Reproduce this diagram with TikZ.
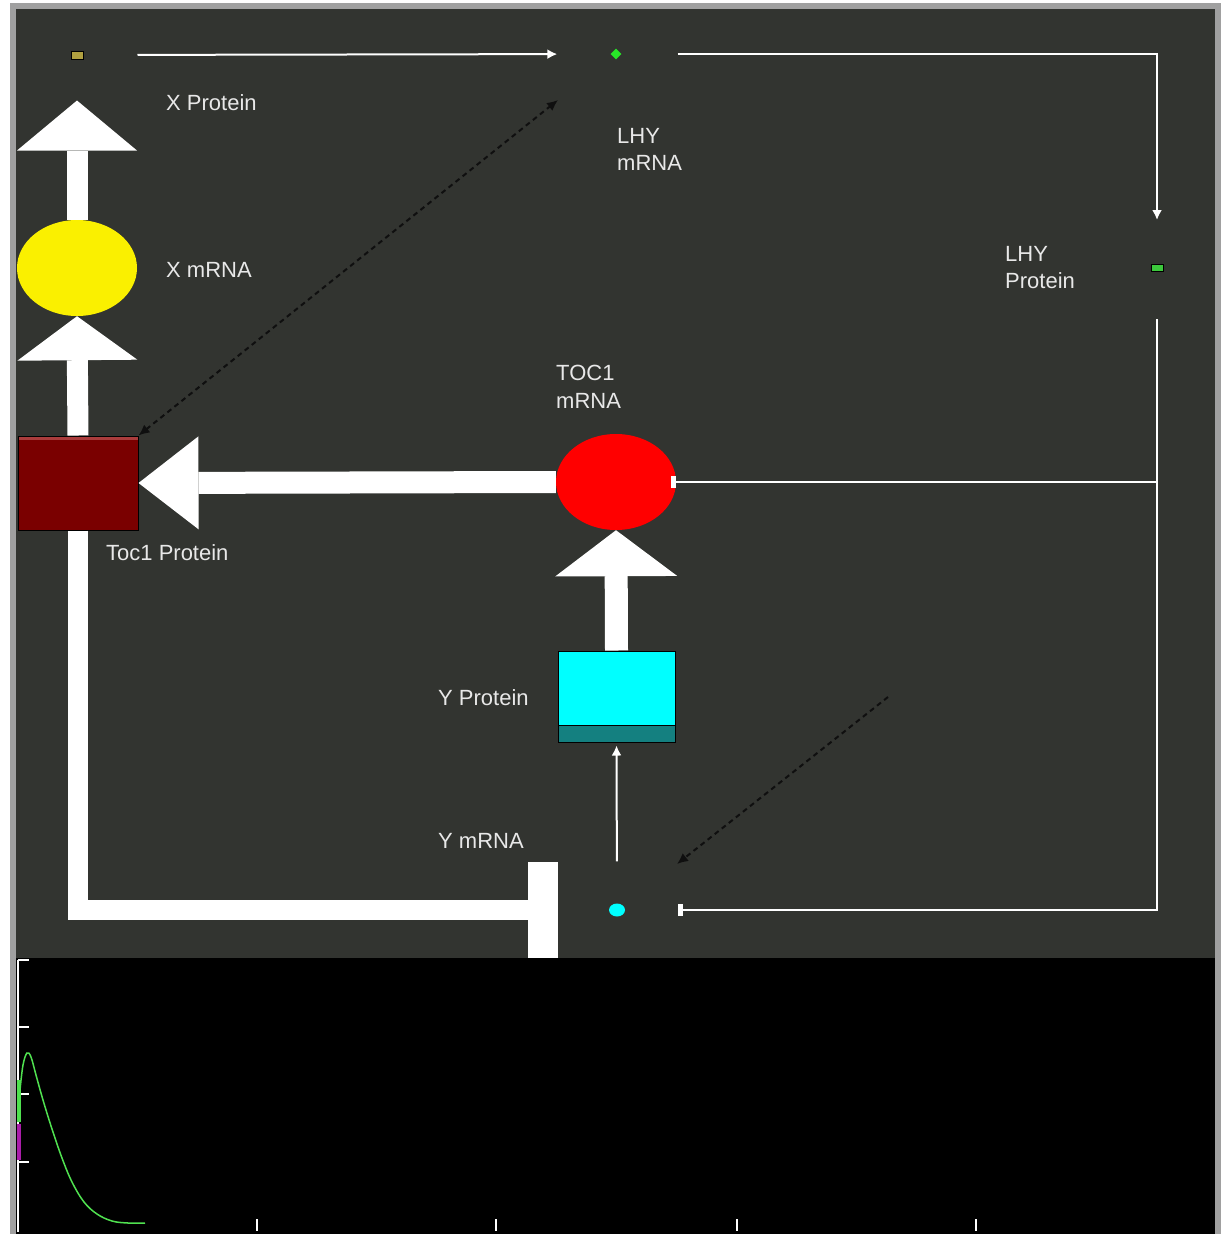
\documentclass[tikz,border=0pt]{standalone}
\usepackage{fontspec}
\setmainfont{Liberation Sans}
\usetikzlibrary{arrows.meta,shapes.geometric}
\definecolor{panel}{RGB}{50,52,48}
\definecolor{framegray}{RGB}{160,160,160}
\definecolor{toconered}{RGB}{255,0,0}
\definecolor{xyellow}{RGB}{250,240,0}
\definecolor{toconeprot}{RGB}{122,0,0}
\definecolor{toconetop}{RGB}{170,60,60}
\definecolor{ycyan}{RGB}{0,255,255}
\definecolor{yteal}{RGB}{20,128,128}
\definecolor{labelgray}{RGB}{232,232,232}
\definecolor{olivebox}{RGB}{176,160,64}
\definecolor{dotgreen}{RGB}{40,230,40}
\definecolor{lhygreen}{RGB}{60,200,60}
\definecolor{curvegreen}{RGB}{80,225,80}
\definecolor{barmagenta}{RGB}{170,30,170}
\definecolor{dashblack}{RGB}{15,15,15}
\begin{document}
\begin{tikzpicture}[x=1pt,y=-1pt,
  lbl/.style={text=labelgray,inner sep=0pt,font=\fontsize{22}{27.5}\selectfont,align=left},
  smallbox/.style={rectangle,draw=black,line width=1pt,inner sep=0pt},
  bigoval/.style={ellipse,inner sep=0pt,minimum width=120pt,minimum height=96pt},
  fatarrow/.style n args={3}{draw=white,line width=#1,-{Triangle[length=#2,width=#3,line width=0pt]}},
  thinw/.style={draw=white,line width=2pt},
  tipw/.style={-{Latex[length=10pt,width=10pt]}},
  inhibit/.style={-{Bar[width=12pt,line width=5pt]}},
  dashw/.style={draw=dashblack,line width=2pt,dash pattern=on 5pt off 4pt}
]
\useasboundingbox (0,0) rectangle (1223,1234);
\fill[white] (0,0) rectangle (1223,1234);
\fill[framegray] (10,3) rectangle (1221,1234);
\fill[panel] (16,9) rectangle (1215,958);
\fill[black] (16,958) rectangle (1215,1234);

% nodes
\node[smallbox,fill=olivebox,minimum width=12pt,minimum height=8pt] (xprot) at (77,55) {};
\node[diamond,fill=dotgreen,inner sep=0pt,minimum size=11pt] (lhym) at (616,54) {};
\node[smallbox,fill=lhygreen,minimum width=12pt,minimum height=7pt] (lhyp) at (1157,268) {};
\node[bigoval,fill=xyellow] (xmrna) at (77,268) {};
\node[rectangle,draw=black,line width=1pt,fill=toconeprot,inner sep=0pt,
      minimum width=120pt,minimum height=94pt,
      path picture={\fill[toconetop] ([yshift=-1pt]path picture bounding box.north west) rectangle ([yshift=-4pt]path picture bounding box.north east);}]
      (toc1p) at (78,483) {};
\node[bigoval,fill=toconered] (toc1) at (616,482) {};
\node[rectangle,draw=black,line width=1pt,fill=ycyan,inner sep=0pt,
      minimum width=117pt,minimum height=91pt,
      path picture={\fill[yteal] (path picture bounding box.south west) rectangle ([yshift=17pt]path picture bounding box.south east);
                    \draw[black,line width=1pt] ([yshift=17pt]path picture bounding box.south west) -- ([yshift=17pt]path picture bounding box.south east);}]
      (yprot) at (616.5,696.5) {};
\node[ellipse,fill=ycyan,inner sep=0pt,minimum width=16pt,minimum height=13pt] (ymrna) at (617,910) {};
\node[rectangle,fill=white,inner sep=0pt,minimum width=30pt,minimum height=96pt] (ybar) at (543,910) {};

% labels
\node[lbl,anchor=base west] (lxprot) at (166,110) {X Protein};
\node[lbl,anchor=north west] (llhym) at (617,128) {LHY\\mRNA};
\node[lbl,anchor=base west] (lxmrna) at (166,277) {X mRNA};
\node[lbl,anchor=north west] (llhyp) at (1005,246) {LHY\\Protein};
\node[lbl,anchor=north west] (ltocm) at (556,365) {TOC1\\mRNA};
\node[lbl,anchor=base west] (ltocp) at (106,560) {Toc1 Protein};
\node[lbl,anchor=base west] (lyprot) at (438,705) {Y Protein};
\node[lbl,anchor=base west] (lymrna) at (438,848) {Y mRNA};

% fat arrows
\draw[fatarrow={21pt}{50pt}{120pt},shorten >=41pt] (xmrna.north) -- (xprot.south);
\draw[fatarrow={21pt}{44pt}{120pt}] (toc1p.north) -- (xmrna.south);
\draw[fatarrow={22pt}{60pt}{93pt}] (toc1.west) -- (toc1p.east);
\draw[fatarrow={23pt}{46pt}{122pt}] (yprot.north) -- (toc1.south);
\draw[draw=white,line width=20pt] (toc1p.south) |- (ybar.west);

% thin connectors
\draw[thinw,tipw,shorten <=54pt,shorten >=53pt] (xprot.east) -- (lhym.west);
\draw[thinw,tipw,shorten <=56pt,shorten >=44pt] (lhym.east) -| (lhyp.north);
\draw[thinw,inhibit,shorten <=47pt,shorten >=53pt] (lhyp.south) |- (ymrna.east);
\draw[thinw,inhibit,shorten >=-5pt] (lhyp.south |- toc1.east) -- (toc1.east);
\draw[thinw,tipw,shorten <=42pt,shorten >=3pt] (ymrna.north) -- (yprot.south);

% dashed connectors
\coordinate (dashtop) at (558,100);
\coordinate (dashsrc) at (888,697);
\draw[dashw,{Latex[length=11pt,width=10pt]}-{Latex[length=11pt,width=10pt]}] (toc1p.north east) -- (dashtop);
\draw[dashw,-{Latex[length=11pt,width=10pt]}] (dashsrc) -- ([xshift=60pt,yshift=46pt]ymrna.center);

% plot
\draw[white,line width=1.5pt] (18,960) -- (18,1232);
\foreach \yy in {960,1027,1094,1162} \draw[white,line width=1.5pt] (18,\yy) -- (29,\yy);
\foreach \xx in {257,496,737,976} \draw[white,line width=1.5pt] (\xx,1219) -- (\xx,1231);
\fill[curvegreen] (17,1080) rectangle (21,1122);
\fill[barmagenta] (17,1124) rectangle (21,1160);
\draw[curvegreen,line width=1.5pt] plot[smooth,tension=0.6] coordinates {(20,1090) (23,1065) (27,1053) (31,1057) (36,1075) (43,1100) (52,1129) (62,1158) (72,1182) (84,1202) (97,1214) (112,1221) (128,1223) (145,1223)};
\end{tikzpicture}
\end{document}
